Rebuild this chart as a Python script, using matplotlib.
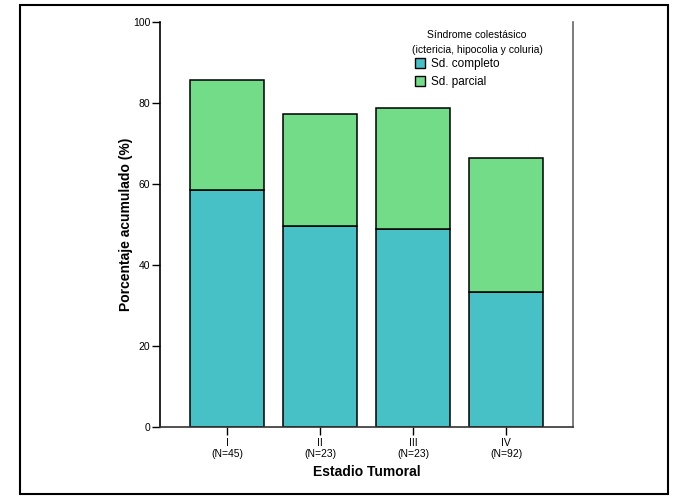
import matplotlib
matplotlib.use("Agg")
import matplotlib.pyplot as plt
from matplotlib.patches import Rectangle
import numpy as np

plt.rcParams["font.family"] = ["Liberation Sans", "DejaVu Sans"]

# ── Data ──────────────────────────────────────────────────────────────────────
stages = ["I", "II", "III", "IV"]
n_cases = [45, 23, 23, 92]
completo = [58.5, 49.6, 49.0, 33.3]          # Sd. completo (%)
total = [85.8, 77.3, 78.8, 66.5]             # cumulative (completo + parcial)
parcial = [t - c for t, c in zip(total, completo)]

TEAL = "#48C1C6"
GREEN = "#72DC88"

W, H = 681, 499
fig = plt.figure(figsize=(W / 100, H / 100), dpi=100)
ax = fig.add_axes([160 / W, 72 / H, 413 / W, 405 / H])

x = np.arange(len(stages))
ax.bar(x, completo, width=0.8, color=TEAL, edgecolor="black", linewidth=1.1,
       label="Sd. completo", zorder=2)
ax.bar(x, parcial, width=0.8, bottom=completo, color=GREEN, edgecolor="black",
       linewidth=1.1, label="Sd. parcial", zorder=2)

ax.set_xlim(-0.72, 3.72)
ax.set_ylim(0, 100)
ax.set_yticks([0, 20, 40, 60, 80, 100])
ax.set_xticks(x)
ax.set_xticklabels([f"{s}\n(N={n})" for s, n in zip(stages, n_cases)],
                   fontsize=7.5, linespacing=1.05)
ax.tick_params(axis="y", labelsize=7.5, length=6, width=1, direction="out",
               pad=1)
ax.tick_params(axis="x", length=6, width=1, direction="out", pad=2)

ax.spines["top"].set_visible(False)
ax.spines["left"].set_color("black")
ax.spines["left"].set_linewidth(1.2)
ax.spines["bottom"].set_color("#333333")
ax.spines["bottom"].set_linewidth(1.2)
ax.spines["right"].set_color("#666666")
ax.spines["right"].set_linewidth(1.2)

ax.set_xlabel("Estadio Tumoral", fontsize=10, fontweight="bold")
ax.set_ylabel("Porcentaje acumulado (%)", fontsize=10, fontweight="bold")
ax.xaxis.set_label_coords(0.5, -(465 - 427) / 405)
ax.yaxis.set_label_coords(-(160 - 133) / 413, 0.5)

# legend title drawn as text, entries as a plain legend below it
fig.text(477 / W, 1 - 30 / H,
         "Síndrome colestásico\n(ictericia, hipocolia y coluria)",
         ha="center", va="top", fontsize=7.5, linespacing=1.6)
handles, labels = ax.get_legend_handles_labels()
leg = fig.legend(handles, labels, loc="upper left",
                 bbox_to_anchor=(415 / W, 1 - 58 / H), frameon=False,
                 fontsize=8.5, handlelength=0.85, handleheight=0.85,
                 handletextpad=0.5, labelspacing=0.5, borderpad=0,
                 borderaxespad=0)
for h in leg.legend_handles:
    h.set_linewidth(1.0)

# outer figure frame
fig.patches.append(Rectangle((20 / W, 5 / H), 648 / W, 489 / H,
                             transform=fig.transFigure, fill=False,
                             edgecolor="black", linewidth=1.5))

fig.savefig("out.png", dpi=100)
